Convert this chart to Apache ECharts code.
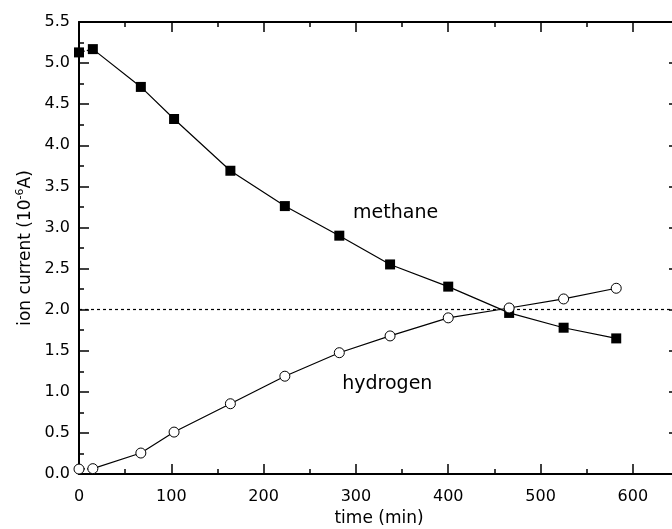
<!DOCTYPE html>
<html lang="en">

<head>
    <meta charset="UTF-8">
    <script src="https://cdn.jsdelivr.net/npm/echarts@6.0.0/dist/echarts.min.js"></script>
    <title>ion current</title>
    <style>
        html, body { margin: 0; padding: 0; background: #fff; }
        #chart { width: 672px; height: 529px; }
    </style>
</head>

<body>
    <div id="chart"></div>

    <script type="text/javascript">
        // data
        var times = [0, 15, 67, 103, 164, 223, 282, 337, 400, 466, 525, 582];
        var methane = [5.13, 5.17, 4.71, 4.32, 3.69, 3.26, 2.90, 2.55, 2.28, 1.96, 1.78, 1.65];
        var hydrogen = [0.06, 0.065, 0.255, 0.51, 0.855, 1.19, 1.476, 1.68, 1.90, 2.02, 2.13, 2.26];
        var refLevel = 2.0;

        var font = 'DejaVu Sans';

        function pairs(ys) {
            return times.map(function (t, i) { return [t, ys[i]]; });
        }
        var methaneData = pairs(methane);
        var hydrogenData = pairs(hydrogen);

        var chart = echarts.init(document.getElementById('chart'));

        var axisLine = { onZero: false, lineStyle: { color: '#000', width: 2 } };
        var tick = { inside: true, length: 10, lineStyle: { color: '#000', width: 1.5 } };
        var minor = { show: true, splitNumber: 2, length: 5, lineStyle: { color: '#000', width: 1.5 } };

        var option = {
            animation: false,
            backgroundColor: '#fff',
            grid: { left: 79, top: 22, width: 600, height: 452, outerBoundsMode: 'none', containLabel: false },
            xAxis: [
                {
                    type: 'value', position: 'bottom', min: 0, max: 650, interval: 100,
                    axisLine: axisLine, axisTick: tick, minorTick: minor,
                    splitLine: { show: false },
                    axisLabel: {
                        margin: 15, color: '#000', fontFamily: font, fontSize: 16,
                        formatter: function (v) { return v > 600 ? '' : String(v); }
                    },
                    name: 'time (min)', nameLocation: 'middle', nameGap: 35,
                    nameTextStyle: { color: '#000', fontFamily: font, fontSize: 17 }
                },
                {
                    type: 'value', position: 'top', min: 0, max: 650, interval: 100,
                    axisLine: axisLine, axisTick: tick, minorTick: minor,
                    splitLine: { show: false },
                    axisLabel: { show: false }
                }
            ],
            yAxis: [
                {
                    type: 'value', position: 'left', min: 0, max: 5.5, interval: 0.5,
                    axisLine: axisLine, axisTick: tick, minorTick: minor,
                    splitLine: { show: false },
                    axisLabel: {
                        margin: 9, color: '#000', fontFamily: font, fontSize: 16,
                        formatter: function (v) { return v.toFixed(1); }
                    },
                    name: '{a|ion current (10}{s|-6}{a|A)}', nameLocation: 'middle', nameGap: 42,
                    nameTextStyle: {
                        rich: {
                            a: { color: '#000', fontFamily: font, fontSize: 17, lineHeight: 22 },
                            s: { color: '#000', fontFamily: font, fontSize: 11, lineHeight: 22, verticalAlign: 'top', padding: [0, 0, 8, 0] }
                        }
                    }
                },
                {
                    type: 'value', position: 'right', min: 0, max: 5.5, interval: 0.5,
                    axisLine: axisLine, axisTick: tick, minorTick: minor,
                    splitLine: { show: false },
                    axisLabel: { show: false }
                }
            ],
            series: [
                {
                    // first segments are dotted
                    type: 'line', data: methaneData.slice(0, 2), symbol: 'none',
                    lineStyle: { color: '#000', width: 1.2, type: [2, 2] }, z: 2
                },
                {
                    type: 'line', data: hydrogenData.slice(0, 2), symbol: 'none',
                    lineStyle: { color: '#000', width: 1.2, type: [2, 2] }, z: 2
                },
                {
                    name: 'methane', type: 'line', data: methaneData.slice(1), symbol: 'none',
                    lineStyle: { color: '#000', width: 1.2 }, z: 2,
                    markLine: {
                        silent: true, symbol: 'none',
                        label: { show: false },
                        lineStyle: { color: '#000', width: 1.2, type: [3, 3] },
                        data: [{ yAxis: refLevel }]
                    },
                    markPoint: {
                        symbol: 'circle', symbolSize: 0,
                        label: { show: true, position: 'inside', color: '#000', fontFamily: font, fontSize: 19, formatter: 'methane' },
                        data: [{ coord: [343, 3.18] }]
                    }
                },
                {
                    name: 'hydrogen', type: 'line', data: hydrogenData.slice(1), symbol: 'none',
                    lineStyle: { color: '#000', width: 1.2 }, z: 2,
                    markPoint: {
                        symbol: 'circle', symbolSize: 0,
                        label: { show: true, position: 'inside', color: '#000', fontFamily: font, fontSize: 19, formatter: 'hydrogen' },
                        data: [{ coord: [334, 1.10] }]
                    }
                },
                {
                    type: 'scatter', data: methaneData, symbol: 'rect', symbolSize: 10,
                    itemStyle: { color: '#000', opacity: 1 }, z: 5
                },
                {
                    type: 'scatter', data: hydrogenData, symbol: 'circle', symbolSize: 10,
                    itemStyle: { color: '#fff', borderColor: '#000', borderWidth: 1, opacity: 1 }, z: 5
                }
            ]
        };
        chart.setOption(option);
    </script>
</body>

</html>
